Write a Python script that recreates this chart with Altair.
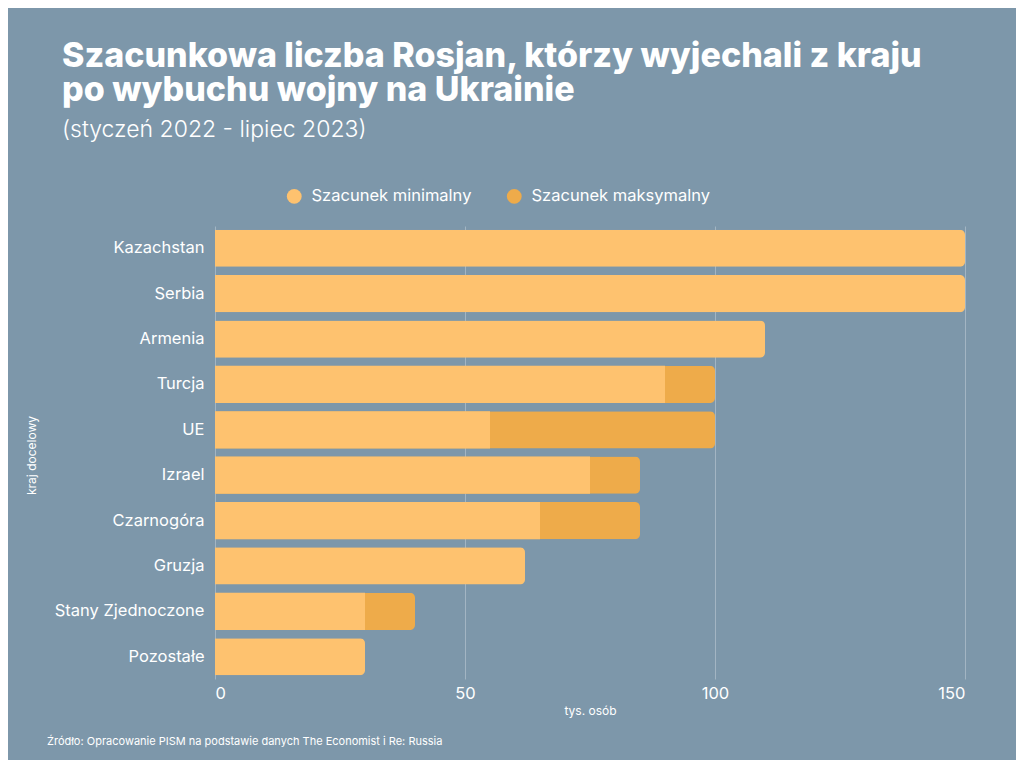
import altair as alt
import pandas as pd

countries = ["Kazachstan", "Serbia", "Armenia", "Turcja", "UE", "Izrael",
             "Czarnogóra", "Gruzja", "Stany Zjednoczone", "Pozostałe"]
min_vals = [150, 150, 110, 90, 55, 75, 65, 62, 30, 30]
max_vals = [150, 150, 110, 100, 100, 85, 85, 62, 40, 30]
series = ["Szacunek minimalny", "Szacunek maksymalny"]
source_text = ["Źródło: Opracowanie PISM na podstawie danych The Economist i Re: Russia"]

LIGHT = "#fec26f"
DARK = "#eeab4a"
BG = "#7d97aa"
FONT = "Inter"

full = pd.DataFrame({
    "kraj": countries,
    "wartosc": max_vals,
    "seria": [series[1] if mx > mn else series[0] for mn, mx in zip(min_vals, max_vals)],
})
inner = pd.DataFrame({
    "kraj": [c for c, mn, mx in zip(countries, min_vals, max_vals) if mx > mn],
    "wartosc": [mn for mn, mx in zip(min_vals, max_vals) if mx > mn],
    "seria": series[0],
})

color = alt.Color(
    "seria:N",
    scale=alt.Scale(domain=series, range=[LIGHT, DARK]),
    legend=alt.Legend(
        title=None, orient="none", direction="horizontal",
        legendX=71, legendY=-38, symbolType="circle", symbolSize=220,
        symbolStrokeWidth=0, labelFontSize=16.5, labelColor="white",
        labelFont=FONT, columnPadding=34, labelOffset=9, labelLimit=400,
    ),
)

y = alt.Y(
    "kraj:N", sort=countries,
    scale=alt.Scale(paddingInner=0.18, paddingOuter=0.08),
    axis=alt.Axis(
        title="kraj docelowy", titleFontSize=12, titleFontWeight="normal",
        titleColor="white", titleFont=FONT, titleX=-177, titleY=229, titleAngle=270,
        labelFontSize=16.5, labelColor="white", labelFont=FONT, labelPadding=11,
        ticks=False, domain=False, grid=False, labelLimit=300,
    ),
)
x = alt.X(
    "wartosc:Q",
    scale=alt.Scale(domain=[0, 150], nice=False),
    axis=alt.Axis(
        title="tys. osób", titleFontSize=12, titleFontWeight="normal",
        titleColor="white", titleFont=FONT, titlePadding=4,
        values=[0, 50, 100, 150], labelFontSize=16.5, labelColor="white",
        labelFont=FONT, labelPadding=6, ticks=False, domain=False,
        grid=True, gridColor="#a3b5c3", gridWidth=1,
    ),
)

bars_full = alt.Chart(full).mark_bar(cornerRadiusEnd=5).encode(x=x, y=y, color=color)
bars_inner = alt.Chart(inner).mark_bar().encode(x=x, y=y, color=color)

source = alt.Chart(pd.DataFrame({"t": source_text})).mark_text(
    align="left", baseline="middle", fontSize=11, color="white", font=FONT
).encode(text="t:N", x=alt.value(-168), y=alt.value(516))

chart = alt.layer(bars_full, bars_inner, source).properties(
    width=750, height=453,
    padding={"left": 207, "top": 218, "right": 51, "bottom": 81},
    autosize=alt.AutoSizeParams(type="none"),
    background=BG,
    title=alt.TitleParams(
        text=["Szacunkowa liczba Rosjan, którzy wyjechali z kraju",
              "po wybuchu wojny na Ukrainie"],
        subtitle="(styczeń 2022 - lipiec 2023)",
        anchor="start", frame="group", orient="top", dx=-153, offset=46,
        font=FONT, fontSize=34, fontWeight=800, color="white", lineHeight=34,
        subtitleFont=FONT, subtitleFontSize=23, subtitleFontWeight=300,
        subtitleColor="white", subtitlePadding=11,
    ),
).configure_view(stroke=None)

chart.save("out.html", embed_options={"renderer": "svg", "actions": False})
